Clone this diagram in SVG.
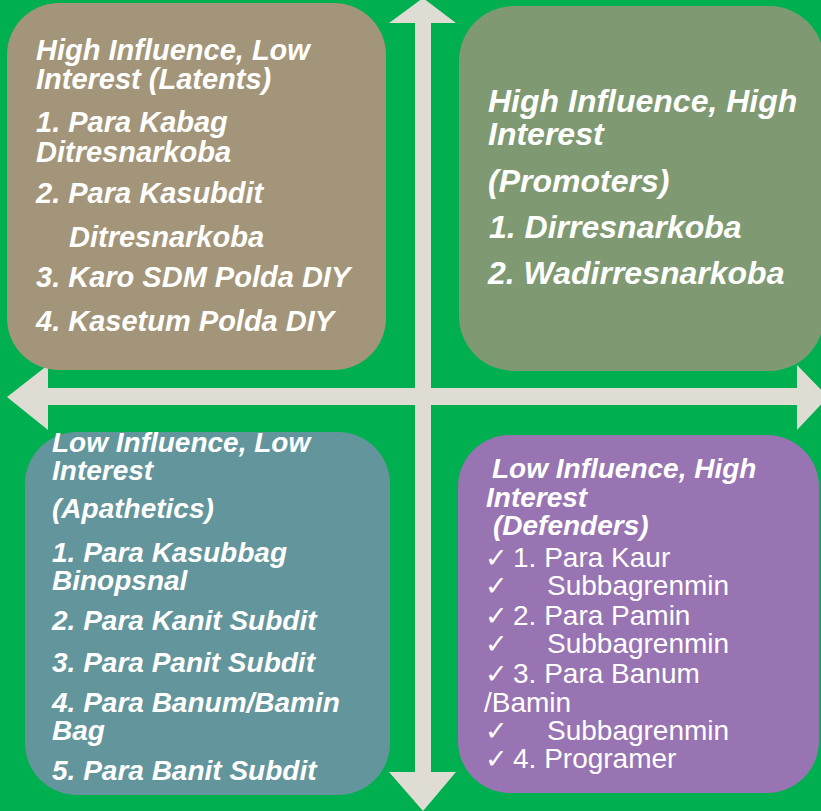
<svg xmlns="http://www.w3.org/2000/svg" width="821" height="811" viewBox="0 0 821 811">
<style>
.t{font-family:"Liberation Sans",Arial,sans-serif;font-weight:bold;font-style:italic;fill:#ffffff}
.r{font-family:"Liberation Sans",Arial,sans-serif;font-weight:normal;font-style:normal;fill:#ffffff;font-size:28px}
.ck{font-family:"DejaVu Sans",sans-serif;font-size:27px}
.arrow{fill:#dfdcd4}
</style>
<rect x="0" y="0" width="821" height="811" fill="#00af50"/>
<g id="connectors">
<polygon class="arrow" points="423,-2 456,23 431,23 431,772 456,772 423,811 389,772 415,772 415,23 389,23"/>
<polygon class="arrow" points="7,397 48,365 48,388 797,388 797,365 828,397 797,430 797,405 48,405 48,430"/>
</g>
<g id="latents">
<rect x="7" y="3" width="379" height="367" rx="52" fill="#a39579"/>
<text class="t" font-size="29">
<tspan x="36" y="60">High Influence, Low</tspan>
<tspan x="36" y="89">Interest (Latents)</tspan>
<tspan x="36" y="132">1. Para Kabag</tspan>
<tspan x="36" y="162">Ditresnarkoba</tspan>
<tspan x="36" y="203">2. Para Kasubdit</tspan>
<tspan x="69" y="247">Ditresnarkoba</tspan>
<tspan x="36" y="287">3. Karo SDM Polda DIY</tspan>
<tspan x="36" y="331">4. Kasetum Polda DIY</tspan>
</text>
</g>
<g id="promoters">
<rect x="459" y="6" width="365" height="365" rx="55" fill="#7f9a73"/>
<text class="t" font-size="32">
<tspan x="488" y="112">High Influence, High</tspan>
<tspan x="488" y="145">Interest</tspan>
<tspan x="488" y="192">(Promoters)</tspan>
<tspan x="489" y="238">1. Dirresnarkoba</tspan>
<tspan x="488" y="284">2. Wadirresnarkoba</tspan>
</text>
</g>
<g id="apathetics">
<rect x="25" y="432" width="365" height="363" rx="52" fill="#63959c"/>
<text class="t" font-size="28">
<tspan x="52" y="452">Low Influence, Low</tspan>
<tspan x="52" y="480">Interest</tspan>
<tspan x="52" y="518">(Apathetics)</tspan>
<tspan x="52" y="562">1. Para Kasubbag</tspan>
<tspan x="52" y="590">Binopsnal</tspan>
<tspan x="52" y="630">2. Para Kanit Subdit</tspan>
<tspan x="52" y="672">3. Para Panit Subdit</tspan>
<tspan x="52" y="712">4. Para Banum/Bamin</tspan>
<tspan x="52" y="740">Bag</tspan>
<tspan x="52" y="780">5. Para Banit Subdit</tspan>
</text>
</g>
<g id="defenders">
<rect x="458" y="435" width="361" height="358" rx="52" fill="#9974b3"/>
<text class="t" font-size="28">
<tspan x="492" y="478">Low Influence, High</tspan>
<tspan x="486" y="507">Interest</tspan>
<tspan x="493" y="535">(Defenders)</tspan>
</text>
<text class="r">
<tspan class="ck" x="485" y="567">✓</tspan><tspan x="513" y="567">1. Para Kaur</tspan>
<tspan class="ck" x="485" y="595">✓</tspan><tspan x="547" y="595">Subbagrenmin</tspan>
<tspan class="ck" x="485" y="625">✓</tspan><tspan x="513" y="625">2. Para Pamin</tspan>
<tspan class="ck" x="485" y="653">✓</tspan><tspan x="547" y="653">Subbagrenmin</tspan>
<tspan class="ck" x="485" y="683">✓</tspan><tspan x="513" y="683">3. Para Banum</tspan>
<tspan x="484" y="712">/Bamin</tspan>
<tspan class="ck" x="485" y="740">✓</tspan><tspan x="547" y="740">Subbagrenmin</tspan>
<tspan class="ck" x="485" y="768">✓</tspan><tspan x="513" y="768">4. Programer</tspan>
</text>
</g>
</svg>
